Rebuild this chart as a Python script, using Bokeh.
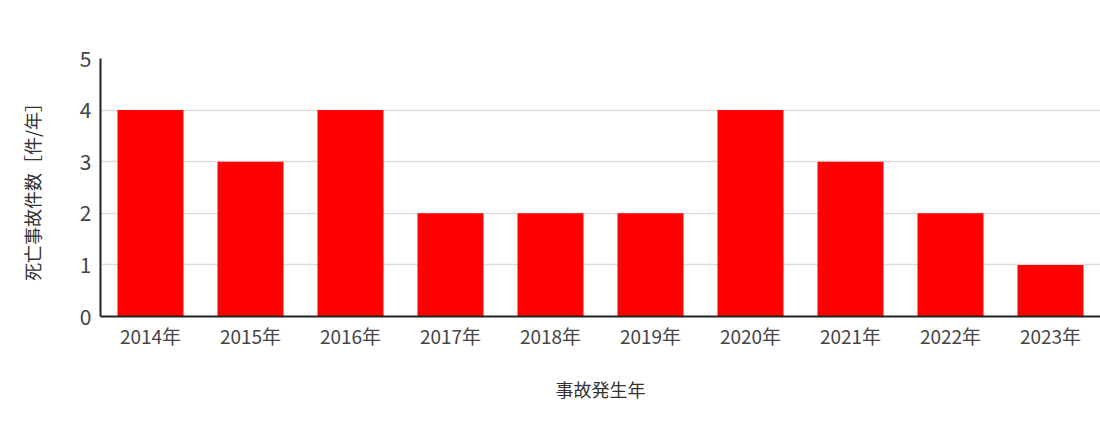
from bokeh.plotting import figure
from bokeh.models import ColumnDataSource, Range1d, SingleIntervalTicker
from bokeh.embed import file_html
from bokeh.resources import INLINE

years = ["2014年", "2015年", "2016年", "2017年", "2018年", "2019年", "2020年", "2021年", "2022年", "2023年"]
deaths = [4, 3, 4, 2, 2, 2, 4, 3, 2, 1]

FONT = "Noto Sans CJK JP"

src = ColumnDataSource(data=dict(x=years, y=deaths))

p = figure(x_range=years, y_range=Range1d(0, 5), width=1100, height=422,
           output_backend="svg", toolbar_location=None,
           min_border_left=100, min_border_right=0, min_border_top=58, min_border_bottom=106)
p.outline_line_color = None
p.vbar(x="x", top="y", width=0.66, source=src, fill_color="#ff0000", line_color=None)

p.x_range.range_padding = 0
p.yaxis.ticker = SingleIntervalTicker(interval=1)
p.ygrid.grid_line_color = "#dddddd"
p.ygrid.grid_line_width = 1.5
p.xgrid.grid_line_color = None

for ax in (p.xaxis, p.yaxis):
    ax.axis_line_color = "#222222"
    ax.axis_line_width = 2
    ax.major_tick_line_color = None
    ax.minor_tick_line_color = None
    ax.major_tick_out = 0
    ax.major_tick_in = 0
    ax.minor_tick_out = 0
    ax.major_label_text_font = FONT
    ax.major_label_text_color = "#444444"
    ax.axis_label_text_font = FONT
    ax.axis_label_text_color = "#333333"
    ax.axis_label_text_font_style = "normal"
    ax.axis_label_text_font_size = "18px"

p.xaxis.major_label_text_font_size = "19px"
p.yaxis.major_label_text_font_size = "21px"
p.xaxis.major_label_standoff = 5
p.yaxis.major_label_standoff = 9
p.xaxis.axis_label = "事故発生年"
p.yaxis.axis_label = "死亡事故件数［件/年］"
p.xaxis.axis_label_standoff = 24
p.yaxis.axis_label_standoff = 32

open("out.html", "w").write(file_html(p, INLINE))
